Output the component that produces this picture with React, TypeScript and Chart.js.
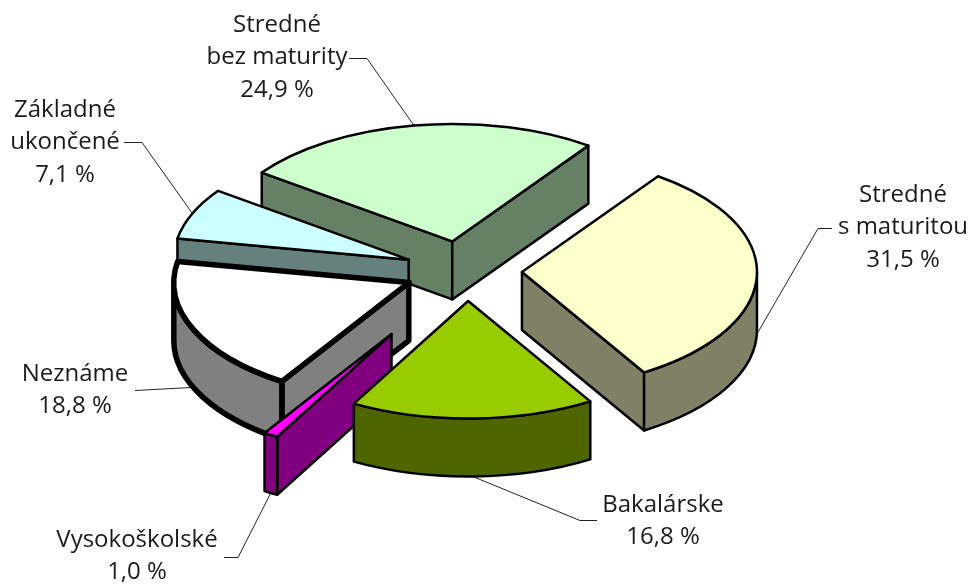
import React, { useEffect, useRef } from "react";
import { Chart, registerables } from "chart.js";

Chart.register(...registerables);

const categories = ["Stredné s maturitou", "Bakalárske", "Vysokoškolské", "Neznáme", "Základné ukončené", "Stredné bez maturity"];
const values = [31.5, 16.8, 1.0, 18.8, 7.1, 24.9];
const nameLines = [["Stredné", "s maturitou"], ["Bakalárske"], ["Vysokoškolské"], ["Neznáme"], ["Základné", "ukončené"], ["Stredné", "bez maturity"]];
const topColors = ["#FFFFCC", "#99CC00", "#FF00FF", "#FFFFFF", "#CCFFFF", "#CCFFCC"];
const sideColors = ["#808066", "#4D6600", "#800080", "#808080", "#668080", "#668066"];
const explode = [60, 60, 147, 58, 58, 60];
const nudgeX = [0, 5, 5, 0, 0, 0];
const borders = [2.5, 2.5, 2.5, 5.5, 2.5, 2.5];
const drawOrder = [5, 4, 3, 2, 0, 1];

const ROTATION = 35.4;
const RADIUS = 235;
const SQUASH = 0.5;
const DEPTH = 58;
const LINE_H = 32.5;

// Text centre x, first line y, and leader: start of the leader, elbow; the end is on the slice's rim.
const labelLayout = [
  { cx: 903, y: 195, from: [832, 228], elbow: [818, 228], onWall: true },
  { cx: 663, y: 505, from: [597, 520], elbow: [580, 520], onWall: true },
  { cx: 137, y: 540, from: [224, 557], elbow: [238, 557], onWall: true },
  { cx: 75, y: 374, from: [135, 390], elbow: [135, 390], onWall: true },
  { cx: 65, y: 110, from: [124, 142], elbow: [142, 142], onWall: false },
  { cx: 277, y: 25, from: [349, 58], elbow: [367, 58], onWall: false },
];

const pie3d = {
  id: "pie3d",
  beforeDatasetDraw(chart: any) {
    const ctx = chart.ctx as CanvasRenderingContext2D;
    const arcs = chart.getDatasetMeta(0).data;
    const geom = arcs.map((el: any, i: number) => {
      const p = el.getProps(["x", "y", "startAngle", "endAngle", "outerRadius"], true);
      const mid = (p.startAngle + p.endAngle) / 2;
      const off = el.options.offset;
      return {
        a0: p.startAngle,
        a1: p.endAngle,
        r: p.outerRadius,
        mid,
        ax: p.x + off * Math.cos(mid) + nudgeX[i],
        ay: p.y + off * Math.sin(mid) * SQUASH,
      };
    });

    ctx.save();
    ctx.lineJoin = "round";

    // Leader lines lie under the slices' outlines.
    ctx.lineWidth = 1;
    ctx.strokeStyle = "#222";
    geom.forEach((g: any, i: number) => {
      const l = labelLayout[i];
      const ex = g.ax + g.r * Math.cos(g.mid);
      const ey = g.ay + g.r * Math.sin(g.mid) * SQUASH + (l.onWall ? DEPTH : 0);
      ctx.beginPath();
      ctx.moveTo(l.from[0], l.from[1] + 0.5);
      ctx.lineTo(l.elbow[0], l.elbow[1] + 0.5);
      ctx.lineTo(ex, ey);
      ctx.stroke();
    });

    drawOrder.forEach((i) => {
      const g = geom[i];
      const ry = g.r * SQUASH;
      const pt = (a: number) => [g.ax + g.r * Math.cos(a), g.ay + ry * Math.sin(a)];
      ctx.strokeStyle = "#000";
      ctx.lineWidth = borders[i];
      ctx.fillStyle = sideColors[i];

      const quad = (a: number) => {
        const [x, y] = pt(a);
        ctx.beginPath();
        ctx.moveTo(g.ax, g.ay);
        ctx.lineTo(x, y);
        ctx.lineTo(x, y + DEPTH);
        ctx.lineTo(g.ax, g.ay + DEPTH);
        ctx.closePath();
        ctx.fill();
        ctx.stroke();
      };
      if (Math.cos(g.a0) < 0) quad(g.a0);
      if (Math.cos(g.a1) > 0) quad(g.a1);

      for (let k = -1; k <= 1; k++) {
        const s = Math.max(g.a0, k * 2 * Math.PI);
        const e = Math.min(g.a1, k * 2 * Math.PI + Math.PI);
        if (e <= s) continue;
        ctx.beginPath();
        ctx.ellipse(g.ax, g.ay, g.r, ry, 0, s, e);
        ctx.ellipse(g.ax, g.ay + DEPTH, g.r, ry, 0, e, s, true);
        ctx.closePath();
        ctx.fill();
        ctx.stroke();
      }

      ctx.fillStyle = topColors[i];
      ctx.beginPath();
      ctx.moveTo(g.ax, g.ay);
      ctx.ellipse(g.ax, g.ay, g.r, ry, 0, g.a0, g.a1);
      ctx.closePath();
      ctx.fill();
      ctx.stroke();
    });

    ctx.font = '24px "Open Sans"';
    ctx.fillStyle = "#1a1a1a";
    ctx.textAlign = "center";
    ctx.textBaseline = "middle";
    values.forEach((v, i) => {
      const l = labelLayout[i];
      const lines = [...nameLines[i], `${v.toFixed(1).replace(".", ",")} %`];
      lines.forEach((t, n) => ctx.fillText(t, l.cx, l.y + n * LINE_H));
    });
    ctx.restore();
    return false;
  },
};

export default function App() {
  const ref = useRef<HTMLCanvasElement>(null);
  useEffect(() => {
    const chart = new Chart(ref.current as HTMLCanvasElement, {
      type: "pie",
      data: {
        labels: categories,
        datasets: [
          {
            data: values,
            backgroundColor: topColors,
            borderColor: "#000",
            borderWidth: borders,
            offset: explode,
          },
        ],
      },
      options: {
        responsive: false,
        animation: false,
        rotation: ROTATION,
        radius: RADIUS,
        layout: { padding: { left: 0, top: 0, right: 50, bottom: 42 } },
        plugins: { legend: { display: false }, tooltip: { enabled: false } },
      },
      plugins: [pie3d],
    } as any);
    return () => chart.destroy();
  }, []);
  return (
    <div style={{ position: "fixed", left: 0, top: 0, width: 974, height: 584, background: "#fff" }}>
      <canvas ref={ref} width={974} height={584} style={{ display: "block" }} />
    </div>
  );
}
